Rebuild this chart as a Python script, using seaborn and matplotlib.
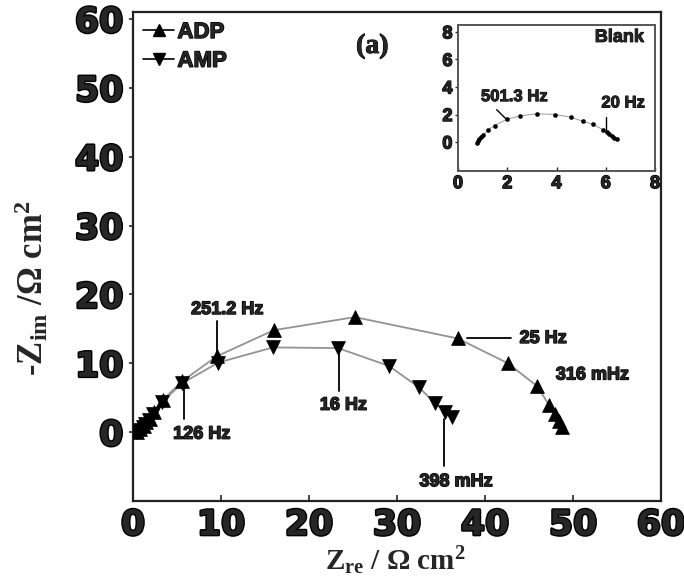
import matplotlib
matplotlib.use("Agg")
import matplotlib.pyplot as plt
import matplotlib.patheffects as pe
from matplotlib.lines import Line2D
import pandas as pd
import seaborn as sns

# Nyquist data, ADP
adp_zre = [0.5, 0.8, 1.2, 1.5, 1.9, 2.4, 3.4, 5.6, 9.5, 16.0, 25.2, 36.9, 42.6, 45.9, 47.3, 48.0, 48.4, 48.7]
adp_zim = [0.0, 0.4, 0.9, 1.4, 1.9, 2.9, 4.7, 7.4, 11.0, 14.8, 16.7, 13.6, 10.0, 6.7, 3.9, 2.6, 1.6, 0.8]
# Nyquist data, AMP
amp_zre = [0.5, 0.8, 1.1, 1.4, 1.8, 2.3, 3.3, 5.6, 9.7, 15.9, 23.3, 29.1, 32.5, 34.3, 35.5, 36.3]
amp_zim = [0.0, 0.3, 0.8, 1.2, 1.8, 2.6, 4.4, 7.1, 10.1, 12.3, 12.2, 9.6, 6.5, 4.2, 2.9, 2.2]
# Nyquist data, blank
blank_zre = [0.78, 0.82, 0.87, 0.93, 1.03, 1.23, 1.5, 1.97, 2.5, 3.2, 3.93, 4.6, 5.08, 5.49, 5.89,
             6.05, 6.15, 6.25, 6.35, 6.45]
blank_zim = [-0.1, 0.05, 0.2, 0.35, 0.5, 0.9, 1.2, 1.65, 1.9, 2.05, 2.0, 1.8, 1.5, 1.28, 0.9,
             0.7, 0.58, 0.45, 0.33, 0.22]

series_names = ["ADP", "AMP"]
main_ticks = [0, 10, 20, 30, 40, 50, 60]
inset_ticks = [0, 2, 4, 6, 8]

df = pd.concat([
    pd.DataFrame({"zre": adp_zre, "zim": adp_zim, "s": "ADP"}),
    pd.DataFrame({"zre": amp_zre, "zim": amp_zim, "s": "AMP"}),
], ignore_index=True)
blank = pd.DataFrame({"zre": blank_zre, "zim": blank_zim})

sns.set_theme(style="ticks")
plt.rcParams["font.family"] = ["Liberation Sans", "DejaVu Sans"]
plt.rcParams["mathtext.fontset"] = "custom"
plt.rcParams["mathtext.rm"] = "Liberation Serif:bold"
plt.rcParams["mathtext.it"] = "Liberation Serif:bold"
plt.rcParams["mathtext.bf"] = "Liberation Serif:bold"

W, H = 684, 582
fig = plt.figure(figsize=(W / 100, H / 100), dpi=100)
ax = fig.add_axes([133 / W, 1 - 501 / H, (661 - 133) / W, (501 - 12) / H])

heavy = [pe.withStroke(linewidth=2.0, foreground="black")]
mid = [pe.withStroke(linewidth=1.0, foreground="black")]
thin = [pe.withStroke(linewidth=0.7, foreground="black")]

markers = {"ADP": "^", "AMP": "v"}
for name in series_names:
    sub = df[df["s"] == name]
    sns.lineplot(data=sub, x="zre", y="zim", sort=False, estimator=None, color="#939393",
                 linewidth=1.3, ax=ax, legend=False)
for name in series_names:
    sub = df[df["s"] == name]
    sns.scatterplot(data=sub, x="zre", y="zim", marker=markers[name], s=100, color="black",
                    edgecolor="black", linewidth=0.5, ax=ax, legend=False, zorder=3)

ax.set_xlim(0, 60)
ax.set_ylim(-10, 61)
ax.set_xticks(main_ticks)
ax.set_yticks(main_ticks)
ax.set_xlabel("")
ax.set_ylabel("")
ax.tick_params(axis="x", direction="in", length=4, width=1.2, pad=5)
ax.tick_params(axis="y", direction="out", length=3, width=1.2, pad=4)
for lab in ax.get_xticklabels() + ax.get_yticklabels():
    lab.set_fontsize(25)
    lab.set_fontweight("bold")
    lab.set_family("DejaVu Sans")
    lab.set_path_effects(heavy)
for sp in ax.spines.values():
    sp.set_linewidth(1.6)
    sp.set_color("#222222")

# frequency annotations
ann = dict(fontsize=13, fontweight="bold", ha="center", va="center", path_effects=mid)
lk = dict(color="black", linewidth=1.3)
ax.plot([9.55, 9.55], [16.1, 11.6], **lk)
ax.text(10.7, 17.8, "251.2 Hz", **ann)
ax.plot([5.83, 5.83], [6.7, 1.9], **lk)
ax.text(7.8, -0.3, "126 Hz", **ann)
ax.plot([23.4, 23.4], [12.0, 5.9], **lk)
ax.text(23.9, 3.9, "16 Hz", **ann)
ax.plot([37.9, 43.0], [13.6, 13.6], **lk)
ax.text(46.6, 13.6, "25 Hz", **ann)
ax.text(52.2, 8.3, "316 mHz", **ann)
ax.plot([35.3, 35.3], [1.9, -4.9], **lk)
ax.text(36.7, -7.2, "398 mHz", **ann)
ax.text(27.2, 56.0, "(a)", fontsize=20, fontweight="bold", family="Liberation Serif",
        ha="center", va="center", path_effects=thin)

handles = [Line2D([], [], color="black", linewidth=1.2, marker=markers[n], markersize=8.5)
           for n in series_names]
leg = ax.legend(handles, series_names, loc="upper left", frameon=False,
                prop={"size": 16, "weight": "bold"}, handlelength=1.4, handletextpad=0.15,
                borderaxespad=0.2, labelspacing=0.35, borderpad=0.25)
for t in leg.get_texts():
    t.set_path_effects(mid)

fig.text(395 / W, 1 - 561 / H, r"$\mathrm{Z_{re}}$ / Ω cm$^{\mathbf{2}}$", fontsize=21,
         family="Liberation Serif", fontweight="bold", ha="center", va="center")
fig.text(32 / W, 1 - 288 / H, r"-$\mathrm{Z_{im}}$ /Ω cm$^{\mathbf{2}}$", fontsize=25,
         family="Liberation Serif", fontweight="bold", ha="center", va="center", rotation=90)

# inset: blank
axi = fig.add_axes([458 / W, 1 - 171 / H, (655 - 458) / W, (171 - 25) / H])
sns.lineplot(data=blank, x="zre", y="zim", sort=False, estimator=None, color="#a5a5a5",
             linewidth=0.8, ax=axi, legend=False)
sns.scatterplot(data=blank, x="zre", y="zim", s=9, color="black", edgecolor="black",
                linewidth=0.3, ax=axi, legend=False, zorder=3)
axi.set_xlim(0, 8)
axi.set_ylim(-2.1, 8.5)
axi.set_xticks(inset_ticks)
axi.set_yticks(inset_ticks)
axi.set_xlabel("")
axi.set_ylabel("")
axi.tick_params(axis="x", direction="in", length=3, width=1, pad=3)
axi.tick_params(axis="y", direction="out", length=2, width=1, pad=2)
for lab in axi.get_xticklabels() + axi.get_yticklabels():
    lab.set_fontsize(13)
    lab.set_fontweight("bold")
    lab.set_path_effects(mid)
for sp in axi.spines.values():
    sp.set_linewidth(1.4)
    sp.set_color("#555555")
axi.plot([1.57, 1.97], [2.35, 1.65], color="black", linewidth=1)
axi.text(2.28, 3.3, "501.3 Hz", fontsize=12, fontweight="bold", ha="center", va="center",
         path_effects=thin)
axi.plot([6.03, 6.03], [1.8, 0.85], color="black", linewidth=1)
axi.text(6.7, 2.84, "20 Hz", fontsize=12, fontweight="bold", ha="center", va="center",
         path_effects=thin)
axi.text(6.55, 7.6, "Blank", fontsize=13, fontweight="bold", ha="center", va="center",
         path_effects=thin)

fig.savefig("out.png", dpi=100)
